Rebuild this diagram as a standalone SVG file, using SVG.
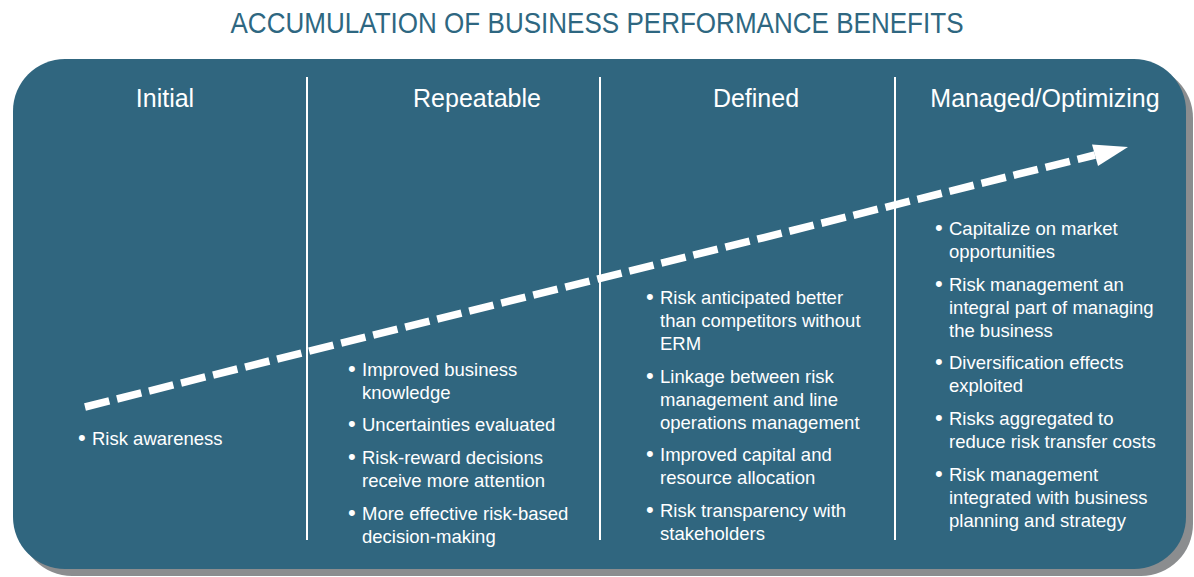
<svg xmlns="http://www.w3.org/2000/svg" width="1194" height="577" viewBox="0 0 1194 577">
<style>
.title{font-family:"Liberation Sans",Arial,sans-serif;font-size:29px;fill:#2e6781}
.hdr{font-family:"Liberation Sans",Arial,sans-serif;font-size:25px;fill:#ffffff;text-anchor:middle}
.body{font-family:"Liberation Sans",Arial,sans-serif;font-size:18.5px;fill:#ffffff}
.b{font-size:22px}
.div{stroke:#ffffff;stroke-width:2}
</style>
<defs>
<path id="panel" d="M65,59 H1134 A52,52 0 0 1 1186,111 V517 A52,52 0 0 1 1134,569 H65 A52,52 0 0 1 13,517 V111 A52,52 0 0 1 65,59 Z"/>
</defs>
<text class="title" x="597" y="33" text-anchor="middle" textLength="733" lengthAdjust="spacingAndGlyphs">ACCUMULATION OF BUSINESS PERFORMANCE BENEFITS</text>
<g id="panel-bg">
<use href="#panel" transform="translate(7,7)" fill="#8b8d8f"/>
<use href="#panel" fill="#30667f"/>
<line class="div" x1="307" y1="77" x2="307" y2="540"/>
<line class="div" x1="600" y1="77" x2="600" y2="540"/>
<line class="div" x1="895" y1="77" x2="895" y2="540"/>
</g>
<g id="connectors">
<path d="M85,407 L1095,155" fill="none" stroke="#ffffff" stroke-width="7.5" stroke-dasharray="25 8"/>
<polygon points="1128,147 1092,144.5 1098,166" fill="#ffffff"/>
</g>
<g id="initial">
<text class="hdr" x="165" y="107">Initial</text>
<text class="body" y="445"><tspan class="b" x="78">•</tspan><tspan x="92">Risk awareness</tspan></text>
</g>
<g id="repeatable">
<text class="hdr" x="477" y="107">Repeatable</text>
<text class="body" y="376"><tspan class="b" x="348">•</tspan><tspan x="362">Improved business</tspan></text>
<text class="body" x="362" y="399">knowledge</text>
<text class="body" y="431"><tspan class="b" x="348">•</tspan><tspan x="362">Uncertainties evaluated</tspan></text>
<text class="body" y="464"><tspan class="b" x="348">•</tspan><tspan x="362">Risk-reward decisions</tspan></text>
<text class="body" x="362" y="487">receive more attention</text>
<text class="body" y="520"><tspan class="b" x="348">•</tspan><tspan x="362">More effective risk-based</tspan></text>
<text class="body" x="362" y="543">decision-making</text>
</g>
<g id="defined">
<text class="hdr" x="756" y="107">Defined</text>
<text class="body" y="304"><tspan class="b" x="646">•</tspan><tspan x="660">Risk anticipated better</tspan></text>
<text class="body" x="660" y="327">than competitors without</text>
<text class="body" x="660" y="350">ERM</text>
<text class="body" y="383"><tspan class="b" x="646">•</tspan><tspan x="660">Linkage between risk</tspan></text>
<text class="body" x="660" y="406">management and line</text>
<text class="body" x="660" y="429">operations management</text>
<text class="body" y="461"><tspan class="b" x="646">•</tspan><tspan x="660">Improved capital and</tspan></text>
<text class="body" x="660" y="484">resource allocation</text>
<text class="body" y="517"><tspan class="b" x="646">•</tspan><tspan x="660">Risk transparency with</tspan></text>
<text class="body" x="660" y="540">stakeholders</text>
</g>
<g id="managed">
<text class="hdr" x="1045" y="107">Managed/Optimizing</text>
<text class="body" y="235"><tspan class="b" x="935">•</tspan><tspan x="949">Capitalize on market</tspan></text>
<text class="body" x="949" y="258">opportunities</text>
<text class="body" y="291"><tspan class="b" x="935">•</tspan><tspan x="949">Risk management an</tspan></text>
<text class="body" x="949" y="314">integral part of managing</text>
<text class="body" x="949" y="337">the business</text>
<text class="body" y="369"><tspan class="b" x="935">•</tspan><tspan x="949">Diversification effects</tspan></text>
<text class="body" x="949" y="392">exploited</text>
<text class="body" y="425"><tspan class="b" x="935">•</tspan><tspan x="949">Risks aggregated to</tspan></text>
<text class="body" x="949" y="448">reduce risk transfer costs</text>
<text class="body" y="481"><tspan class="b" x="935">•</tspan><tspan x="949">Risk management</tspan></text>
<text class="body" x="949" y="504">integrated with business</text>
<text class="body" x="949" y="527">planning and strategy</text>
</g>
</svg>
